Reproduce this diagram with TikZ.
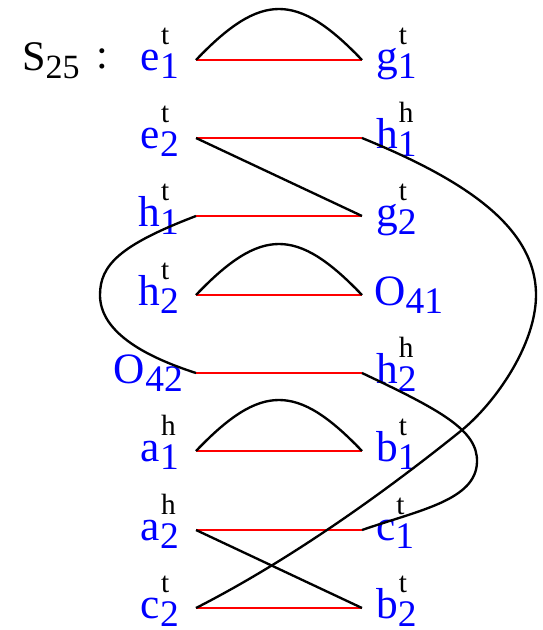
\documentclass[tikz,border=0pt]{standalone}
\usepackage{fontspec}
\setmainfont{Liberation Serif}
\usetikzlibrary{calc}
\definecolor{ptblue}{RGB}{0,0,255}
\newcommand\ptlab[3]{\textcolor{ptblue}{\fontsize{37}{40}\selectfont #1}\rlap{\kern0.3mm\raisebox{7.6mm}{\fontsize{25}{26}\selectfont #3}}\textcolor{ptblue}{\raisebox{-2.5mm}{\fontsize{32}{34}\selectfont #2}}}

\begin{document}
\begin{tikzpicture}[x=0.03cm, y=-0.03cm,
    pair/.style={red, line width=1.2pt},
    link/.style={black, line width=2pt},
    lblL/.style={anchor=base east, inner sep=0pt},
    lblR/.style={anchor=base west, inner sep=0pt}]
  \useasboundingbox (0,0) rectangle (543,630);
  % end points of the pairs
  \coordinate (e1t) at (196,60);  \coordinate (g1t) at (362,60);
  \coordinate (e2t) at (196,138); \coordinate (h1h) at (362,138);
  \coordinate (h1t) at (196,216); \coordinate (g2t) at (362,216);
  \coordinate (h2t) at (196,295); \coordinate (O41) at (362,295);
  \coordinate (O42) at (196,373); \coordinate (h2h) at (362,373);
  \coordinate (a1h) at (196,451); \coordinate (b1t) at (362,451);
  \coordinate (a2h) at (196,530); \coordinate (c1t) at (362,530);
  \coordinate (c2t) at (196,608); \coordinate (b2t) at (362,608);
  % labels
  \node[anchor=base west, inner sep=0pt] (title) at (22,70) {\fontsize{36}{40}\selectfont S\raisebox{-2.4mm}{\fontsize{29}{30}\selectfont 25}};
  \node[anchor=base west, inner sep=0pt] (colon) at (96,68) {\fontsize{36}{40}\selectfont :};
  \node[lblL] (le1t) at ($(e1t)+(-17,10)$) {\ptlab{e}{1}{t}};
  \node[lblL] (le2t) at ($(e2t)+(-17,10)$) {\ptlab{e}{2}{t}};
  \node[lblL] (lh1t) at ($(h1t)+(-17,10)$) {\ptlab{h}{1}{t}};
  \node[lblL] (lh2t) at ($(h2t)+(-17,10)$) {\ptlab{h}{2}{t}};
  \node[lblL] (lO42) at ($(O42)+(-13,10)$) {\ptlab{O}{42}{}};
  \node[lblL] (la1h) at ($(a1h)+(-17,10)$) {\ptlab{a}{1}{h}};
  \node[lblL] (la2h) at ($(a2h)+(-17,10)$) {\ptlab{a}{2}{h}};
  \node[lblL] (lc2t) at ($(c2t)+(-17,10)$) {\ptlab{c}{2}{t}};
  \node[lblR] (lg1t) at ($(g1t)+(14,10)$) {\ptlab{g}{1}{t}};
  \node[lblR] (lh1h) at ($(h1h)+(14,10)$) {\ptlab{h}{1}{h}};
  \node[lblR] (lg2t) at ($(g2t)+(14,10)$) {\ptlab{g}{2}{t}};
  \node[lblR] (lO41) at ($(O41)+(12,10)$) {\ptlab{O}{41}{}};
  \node[lblR] (lh2h) at ($(h2h)+(14,10)$) {\ptlab{h}{2}{h}};
  \node[lblR] (lb1t) at ($(b1t)+(14,10)$) {\ptlab{b}{1}{t}};
  \node[lblR] (lc1t) at ($(c1t)+(14,10)$) {\ptlab{c}{1}{t}};
  \node[lblR] (lb2t) at ($(b2t)+(14,10)$) {\ptlab{b}{2}{t}};
  % red pairs
  \foreach \l/\r in {e1t/g1t, e2t/h1h, h1t/g2t, h2t/O41, O42/h2h, a1h/b1t, a2h/c1t, c2t/b2t}
    \draw[pair] (\l) -- (\r);
  % black links
  \foreach \l/\r in {e1t/g1t, h2t/O41, a1h/b1t}
    \draw[link] (\l) .. controls +(65,-68) and +(-65,-68) .. (\r);
  \draw[link] (e2t) -- (g2t);
  \draw[link] (a2h) -- (b2t);
  \draw[link] (h1t) .. controls (120,245) and (100,265) .. (100,295)
    .. controls (100,330) and (140,355) .. (O42);
  \draw[link] (h1h) .. controls (460,178) and (536,225) .. (536,295)
    .. controls (536,345) and (495,403) .. (462,430)
    .. controls (400,480) and (300,555) .. (c2t);
  \draw[link] (h2h) .. controls (440,410) and (478,430) .. (477,462)
    .. controls (476,500) and (420,510) .. (c1t);
\end{tikzpicture}
\end{document}
